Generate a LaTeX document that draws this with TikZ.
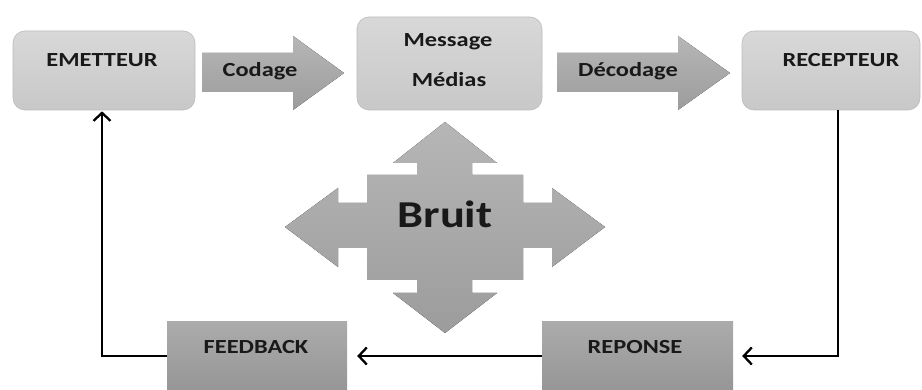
\documentclass[tikz,border=0pt]{standalone}
\usepackage{fontspec}
\setmainfont{Carlito}[FakeStretch=1.22]
\usetikzlibrary{positioning,arrows.meta}
\definecolor{boxtop}{RGB}{216,216,216}
\definecolor{boxbot}{RGB}{200,200,200}
\definecolor{boxline}{RGB}{188,188,188}
\definecolor{darktop}{RGB}{171,171,171}
\definecolor{darkbot}{RGB}{150,150,150}
\definecolor{arrtop}{RGB}{182,182,182}
\definecolor{arrbot}{RGB}{156,156,156}
\definecolor{txtcol}{RGB}{25,25,25}

\begin{document}
\begin{tikzpicture}[x=1pt,y=-1pt,
    topbox/.style={rounded corners=12pt, top color=boxtop, bottom color=boxbot, draw=boxline, line width=0.6pt},
    lowbox/.style={top color=darktop, bottom color=darkbot},
    lbl/.style={font=\bfseries\fontsize{20}{22}\selectfont, text=txtcol, anchor=base, inner sep=0pt},
    fb/.style={line width=2.3pt, -{Straight Barb[length=8pt,width=17pt,line width=2.3pt]}}]
  \useasboundingbox (0,0) rectangle (922,390);
  \foreach \nm/\cx/\cy/\w/\h in {emetteur/104/70.5/182/79, message/449.5/63.5/185/93, recepteur/831/70.5/178/79}{
    \node[topbox, minimum width=\w pt, minimum height=\h pt] (\nm) at (\cx,\cy) {};
  }
  \foreach \nm/\cx/\w in {feedback/257/180, reponse/637.5/191}{
    \node[lowbox, minimum width=\w pt, minimum height=68pt] (\nm) at (\cx,356) {};
  }
  \foreach \xa/\xb/\xc/\t/\tx in {202/293/344/Codage/260, 557/678/730/Décodage/628}{
    \fill[top color=arrtop, bottom color=arrbot] (\xa,53) -- (\xb,53) -- (\xb,36) -- (\xc,73)
      -- (\xb,110) -- (\xb,92) -- (\xa,92) -- cycle;
    \node[lbl] at (\tx,77) {\t};
  }
  \fill[top color=arrtop, bottom color=arrbot] (445,122) -- (497,163) -- (472,163) -- (472,175)
    -- (523,175) -- (523,203) -- (552,203) -- (552,188) -- (605,227) -- (552,267) -- (552,248)
    -- (523,248) -- (523,280) -- (472,280) -- (472,293) -- (497,293) -- (445,333) -- (393,293)
    -- (417,293) -- (417,280) -- (367,280) -- (367,248) -- (338,248) -- (338,267) -- (285,227)
    -- (338,188) -- (338,203) -- (367,203) -- (367,175) -- (417,175) -- (417,163) -- (393,163) -- cycle;
  \node[lbl, font=\bfseries\fontsize{38}{40}\selectfont] (bruit) at (445,228) {Bruit};
  \node[lbl] (emtxt) at (102,67) {EMETTEUR};
  \node[lbl] (msgtxt) at (448,47) {Message};
  \node[lbl] (medtxt) at (449,87) {Médias};
  \node[lbl] (rectxt) at (841,67) {RECEPTEUR};
  \node[lbl] (fbtxt) at (256,353) {FEEDBACK};
  \node[lbl] (reptxt) at (635,353) {REPONSE};
  \draw[fb, shorten >=9pt] ([xshift=7pt]recepteur.south) |- (reponse.east);
  \draw[fb, shorten >=10pt] (reponse.west) -- (feedback.east);
  \draw[fb, shorten >=1pt] (feedback.west) -| ([xshift=-2pt]emetteur.south);
\end{tikzpicture}
\end{document}
